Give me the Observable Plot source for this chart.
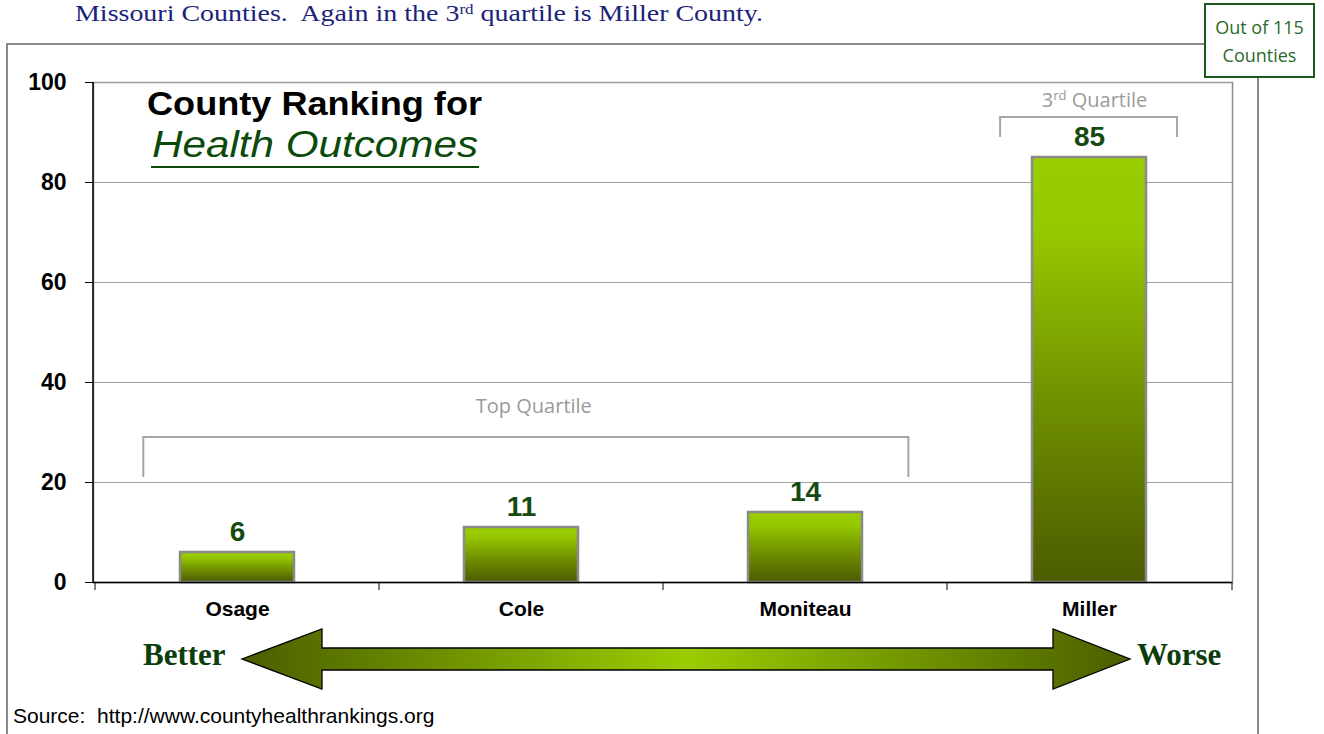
<!DOCTYPE html>
<html><head><meta charset="utf-8">
<script src="https://cdn.jsdelivr.net/npm/d3@7"></script>
<script src="https://cdn.jsdelivr.net/npm/@observablehq/plot@0.6"></script>
<style>
html,body{margin:0;padding:0;background:#fff;}
#chart{width:1324px;height:734px;overflow:hidden;position:relative;}
#chart svg{display:block;}
</style></head><body><div id="chart"></div>
<script>
// ---- data ----
const counties = ["Osage", "Cole", "Moniteau", "Miller"];
const ranks = [6, 11, 14, 85];
const yTicks = [0, 20, 40, 60, 80, 100];
const gridTicks = [20, 40, 60, 80, 100];
const totalCounties = 115;
const caption = ["Missouri Counties.  Again in the 3", "rd", " quartile is Miller County."];
const titleLine1 = "County Ranking for";
const titleLine2 = "Health Outcomes";
const sourceText = "Source:  http://www.countyhealthrankings.org";

const data = counties.map((county, i) => ({county, rank: ranks[i]}));

const SANS = "'Liberation Sans', Arial, sans-serif";
const SERIF = "'Liberation Serif', 'Times New Roman', serif";
const CAL = "'Open Sans', 'Noto Sans', sans-serif";

const plot = Plot.plot({
  width: 1324, height: 734,
  marginLeft: 93, marginRight: 92, marginTop: 82, marginBottom: 152,
  style: {background: "#fff", fontFamily: SANS, overflow: "visible"},
  x: {domain: counties, paddingInner: 0.6, paddingOuter: 0.3, axis: null},
  y: {domain: [0, 100], axis: null},
  marks: [
    Plot.frame({stroke: "#8c8c8c", strokeWidth: 1.5}),
    Plot.gridY(gridTicks, {stroke: "#a0a0a0", strokeOpacity: 1, strokeWidth: 1}),
    Plot.barY(data, {x: "county", y: "rank", fill: "url(#barGrad)", stroke: "#8a8a8a", strokeWidth: 2.5}),
    Plot.ruleY([0], {stroke: "#000", strokeWidth: 1.5}),
    Plot.axisY({ticks: yTicks, tickSize: 8, tickPadding: 19, fontSize: 23, fontWeight: "bold", fill: "#000", stroke: "#000", label: null}),
    Plot.axisX({tickSize: 0, tickPadding: 19, fontSize: 21, fontWeight: "bold", fill: "#000", label: null}),
    Plot.text(data, {x: "county", y: "rank", text: d => String(d.rank), lineAnchor: "bottom", dy: -12,
      fontSize: 28, fontWeight: "bold", fill: "#154a10"})
  ]
});

document.getElementById("chart").appendChild(plot);

const svg = d3.select(plot);
const sx = plot.scale("x"), sy = plot.scale("y");
const x0 = sx.range[0], x1 = sx.range[1];
const nC = counties.length;
const step = sx.step || (x1 - x0) / (nC - sx.paddingInner + 2 * sx.paddingOuter);
const bw = sx.bandwidth || step * (1 - sx.paddingInner);
const left = c => sx.apply(c) - (step - bw) / 2;
const Y = v => sy.apply(v);

// gradients
const defs = svg.insert("defs", ":first-child");
const bg = defs.append("linearGradient").attr("id", "barGrad").attr("x1", 0).attr("y1", 0).attr("x2", 0).attr("y2", 1);
[[0, "#9acd00"], [0.18, "#96c800"], [0.55, "#739300"], [1, "#4a5c00"]].forEach(([o, c]) =>
  bg.append("stop").attr("offset", o).attr("stop-color", c));
const ag = defs.append("linearGradient").attr("id", "arrowGrad").attr("gradientUnits", "userSpaceOnUse")
  .attr("x1", 242).attr("x2", 1130).attr("y1", 0).attr("y2", 0);
[[0, "#4a5e00"], [0.5, "#9acd00"], [1, "#4a5e00"]].forEach(([o, c]) =>
  ag.append("stop").attr("offset", o).attr("stop-color", c));

const g = svg.append("g").attr("text-anchor", "start");
const txt = (x, y) => g.append("text").attr("x", x).attr("y", y).attr("text-anchor", "start");

// y axis line (black)
g.append("line").attr("x1", x0).attr("x2", x0).attr("y1", Y(100)).attr("y2", Y(0))
  .attr("stroke", "#000").attr("stroke-width", 1.5);
// category boundary ticks
[...counties.map(left), x1].forEach(xx =>
  g.append("line").attr("x1", xx).attr("x2", xx).attr("y1", Y(0)).attr("y2", Y(0) + 8)
    .attr("stroke", "#000").attr("stroke-width", 1));

// outer frame
g.append("path").attr("d", `M7,734V44H1205M1258,77V734`).attr("fill", "none")
  .attr("stroke", "#8a8a8a").attr("stroke-width", 2);

// Out of 115 Counties box
g.append("rect").attr("x", 1205).attr("y", 4).attr("width", 109).attr("height", 73)
  .attr("fill", "#fff").attr("stroke", "#1e5a1e").attr("stroke-width", 2);
txt(1259.5, 34).attr("text-anchor", "middle")
  .attr("font-family", CAL).attr("font-size", 18).attr("fill", "#2a6a2a").text(`Out of ${totalCounties}`);
txt(1259.5, 62).attr("text-anchor", "middle")
  .attr("font-family", CAL).attr("font-size", 18).attr("fill", "#2a6a2a").text("Counties");

// caption at top
const cap = txt(75, 21).attr("font-family", SERIF).attr("font-size", 23)
  .attr("fill", "#1a237a").attr("textLength", 688).attr("lengthAdjust", "spacingAndGlyphs");
cap.append("tspan").text(caption[0]);
cap.append("tspan").attr("dy", -7).attr("font-size", 14).text(caption[1]);
cap.append("tspan").attr("dy", 7).text(caption[2]);

// chart title
txt(147, 115).attr("font-family", SANS).attr("font-weight", "bold")
  .attr("font-size", 34).attr("fill", "#000").attr("textLength", 335).attr("lengthAdjust", "spacingAndGlyphs")
  .text(titleLine1);
txt(152, 157).attr("font-family", SANS).attr("font-style", "italic")
  .attr("font-size", 37).attr("fill", "#0b4a0b").attr("textLength", 326).attr("lengthAdjust", "spacingAndGlyphs")
  .text(titleLine2);
g.append("line").attr("x1", 151).attr("x2", 479).attr("y1", 167).attr("y2", 167)
  .attr("stroke", "#0b4a0b").attr("stroke-width", 2.2);

// quartile brackets
function bracket(xa, xb, yTop, yEnd) {
  g.append("path").attr("d", `M${xa},${Y(yEnd)}V${Y(yTop)}H${xb}V${Y(yEnd)}`)
    .attr("fill", "none").attr("stroke", "#a6a6a6").attr("stroke-width", 2);
}
const topA = left("Osage") + 0.17 * step, topB = left("Moniteau") + 0.864 * step;
bracket(topA, topB, 29, 21);
txt((topA + topB) / 2 + 8, Y(33.8)).attr("text-anchor", "middle")
  .attr("font-family", CAL).attr("font-size", 20).attr("fill", "#9a9a9a").text("Top Quartile");
const q3A = left("Miller") + 0.187 * step, q3B = left("Miller") + 0.81 * step;
bracket(q3A, q3B, 93, 89);
const q3 = txt((q3A + q3B) / 2 + 6, Y(95)).attr("text-anchor", "middle")
  .attr("font-family", CAL).attr("font-size", 20).attr("fill", "#9a9a9a");
q3.append("tspan").text("3");
q3.append("tspan").attr("dy", -7).attr("font-size", 13).text("rd");
q3.append("tspan").attr("dy", 7).text(" Quartile");

// Better / Worse arrow
g.append("path")
  .attr("d", "M242,659L322,629V648H1053V629L1130,659L1053,689V670H322V689Z")
  .attr("fill", "url(#arrowGrad)").attr("stroke", "#000").attr("stroke-width", 1.3);
txt(143, 665).attr("font-family", SERIF).attr("font-weight", "bold")
  .attr("font-size", 31).attr("fill", "#0c3d0c").text("Better");
txt(1137, 665).attr("font-family", SERIF).attr("font-weight", "bold")
  .attr("font-size", 31).attr("fill", "#0c3d0c").text("Worse");

// source
txt(13, 723).attr("font-family", SANS).attr("font-size", 21)
  .attr("fill", "#000").text(sourceText);
</script></body></html>
